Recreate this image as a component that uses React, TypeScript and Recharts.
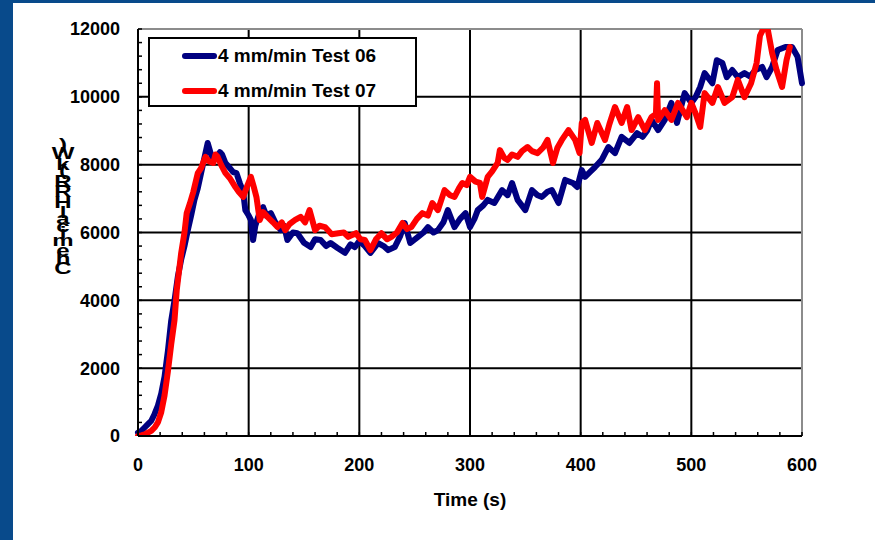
import React from 'react';
import { LineChart, Line, XAxis, YAxis, CartesianGrid, Legend } from 'recharts';

// time in s, HRR in kW
const test06Time = [0, 3, 6, 9, 12, 15, 18, 21, 24, 27, 30, 33, 36, 39, 42, 45, 48, 51, 54, 57, 60, 63, 66, 68, 71, 74, 76, 79, 83, 86, 89, 92, 95, 97, 100, 102, 104, 106, 110, 113, 116, 120, 124, 129, 132, 135, 140, 144, 150, 156, 160, 165, 170, 174, 180, 187, 192, 196, 200, 205, 210, 217, 222, 226, 232, 237, 241, 246, 253, 258, 262, 267, 271, 276, 280, 286, 291, 296, 300, 304, 307, 312, 316, 322, 329, 334, 338, 343, 350, 356, 361, 365, 370, 374, 380, 386, 393, 397, 401, 404, 409, 413, 419, 425, 431, 437, 444, 451, 456, 460, 464, 470, 476, 482, 487, 494, 500, 504, 508, 512, 519, 523, 528, 532, 537, 542, 548, 553, 558, 564, 568, 573, 578, 585, 591, 596, 600];
const test06Hrr = [100, 150, 250, 350, 450, 650, 900, 1250, 1750, 2500, 3400, 4000, 4700, 5200, 5600, 6070, 6500, 6960, 7300, 7750, 8200, 8640, 8300, 8140, 8230, 8370, 8300, 8050, 7900, 7780, 7750, 7460, 7200, 6660, 6500, 6370, 5780, 6200, 6600, 6750, 6500, 6570, 6300, 6070, 6200, 5780, 6000, 5980, 5700, 5570, 5800, 5780, 5600, 5690, 5550, 5400, 5650, 5570, 5750, 5600, 5400, 5690, 5600, 5480, 5570, 5900, 6280, 5690, 5870, 6000, 6160, 6000, 6070, 6300, 6660, 6160, 6400, 6570, 6160, 6400, 6660, 6800, 6960, 6870, 7250, 7100, 7460, 6960, 6660, 7250, 7100, 7050, 7200, 7250, 6870, 7550, 7460, 7340, 7840, 7640, 7800, 7930, 8140, 8520, 8340, 8820, 8640, 8930, 8820, 9000, 9320, 9020, 9320, 9820, 9230, 10110, 9820, 10000, 10290, 10700, 10400, 11080, 11000, 10580, 10790, 10580, 10700, 10600, 10790, 10880, 10580, 10880, 11380, 11470, 11470, 11180, 10400];

const test07Time = [0, 3, 6, 9, 12, 15, 18, 21, 24, 27, 30, 33, 35, 39, 42, 44, 47, 50, 54, 57, 61, 64, 68, 70, 72, 75, 79, 83, 88, 91, 95, 99, 102, 105, 107, 110, 113, 117, 122, 126, 130, 133, 137, 142, 147, 151, 155, 160, 164, 169, 175, 181, 186, 190, 197, 201, 205, 210, 215, 220, 225, 229, 234, 239, 243, 247, 252, 257, 262, 266, 271, 277, 282, 286, 290, 293, 297, 300, 305, 309, 311, 316, 320, 325, 327, 331, 334, 338, 343, 347, 352, 356, 361, 366, 370, 375, 379, 383, 389, 395, 399, 401, 404, 410, 415, 422, 426, 431, 437, 442, 446, 452, 458, 464, 468, 469, 470, 476, 482, 488, 496, 500, 504, 508, 512, 519, 524, 530, 537, 542, 548, 554, 559, 562, 565, 569, 573, 577, 582, 586, 589];
const test07Hrr = [0, 20, 50, 100, 150, 250, 400, 700, 1200, 1900, 2700, 3420, 4300, 5390, 6000, 6570, 6870, 7200, 7750, 7900, 8230, 8100, 8050, 8300, 8230, 8000, 7750, 7600, 7340, 7200, 7050, 7400, 7640, 7300, 7050, 6370, 6600, 6460, 6300, 6160, 6300, 6070, 6250, 6370, 6460, 6300, 6660, 6070, 6200, 6160, 5950, 5980, 6000, 5870, 5980, 5800, 5780, 5480, 5800, 5980, 5800, 5870, 6000, 6280, 6100, 6160, 6400, 6570, 6500, 6870, 6660, 7250, 7100, 7050, 7300, 7460, 7400, 7640, 7500, 7460, 7050, 7640, 7800, 8050, 8430, 8200, 8140, 8300, 8230, 8400, 8520, 8400, 8340, 8500, 8730, 8050, 8500, 8730, 9020, 8730, 8340, 9230, 9320, 8640, 9230, 8730, 9200, 9700, 9230, 9700, 9020, 9400, 9020, 9400, 9500, 10400, 9320, 9610, 9320, 9820, 9400, 9820, 9500, 9110, 10110, 9820, 10290, 9820, 9990, 10500, 9990, 10400, 11000, 11800, 12000, 12000, 11290, 10790, 10290, 11080, 11470];

const seriesNames = ['4 mm/min Test 06', '4 mm/min Test 07'];
const seriesColors = ['#000080', '#ff0000'];
const xMajorTicks = [0, 100, 200, 300, 400, 500, 600];
const xMinorTicks = [0, 20, 40, 60, 80, 100, 120, 140, 160, 180, 200, 220, 240, 260, 280, 300, 320, 340, 360, 380, 400, 420, 440, 460, 480, 500, 520, 540, 560, 580, 600];
const yMajorTicks = [0, 2000, 4000, 6000, 8000, 10000, 12000];
const yMinorTicks = [0, 400, 800, 1200, 1600, 2000, 2400, 2800, 3200, 3600, 4000, 4400, 4800, 5200, 5600, 6000, 6400, 6800, 7200, 7600, 8000, 8400, 8800, 9200, 9600, 10000, 10400, 10800, 11200, 11600, 12000];
const xTitle = 'Time (s)';
const yTitle = 'Chemical HRR (kW)';

const test06 = test06Time.map((t, i) => ({ time: t, hrr: test06Hrr[i] }));
const test07 = test07Time.map((t, i) => ({ time: t, hrr: test07Hrr[i] }));

const FONT = '"Liberation Sans", Arial, sans-serif';
const TICK_GAP = 18;
const X_TICK_GAP = 22;

const YTick = (props: any) => {
  const { x, y, payload } = props;
  const axisX = x + TICK_GAP;
  const major = yMajorTicks.includes(payload.value);
  return (
    <g>
      <line x1={axisX} x2={axisX + 4} y1={y} y2={y} stroke="#000" strokeWidth={1.5} />
      {major && (
        <text x={x} y={y} dy="0.36em" textAnchor="end" fontFamily={FONT} fontWeight="bold" fontSize={18} fill="#000">
          {payload.value}
        </text>
      )}
    </g>
  );
};

const XTick = (props: any) => {
  const { x, y, payload } = props;
  const axisY = y - X_TICK_GAP;
  const major = xMajorTicks.includes(payload.value);
  return (
    <g>
      <line x1={x} x2={x} y1={axisY} y2={axisY - 4} stroke="#000" strokeWidth={1.5} />
      {major && (
        <text x={x} y={y} dy="0.72em" textAnchor="middle" fontFamily={FONT} fontWeight="bold" fontSize={18} fill="#000">
          {payload.value}
        </text>
      )}
    </g>
  );
};

const renderLegend = (props: any) => {
  const { payload } = props;
  return (
    <div style={{ width: 265, height: 66, border: '2px solid #000', background: '#fff', position: 'relative' }}>
      {payload.map((entry: any, i: number) => (
        <div key={entry.value} style={{ position: 'absolute', left: 32, top: 7 + i * 35, height: 20, display: 'flex', alignItems: 'center' }}>
          <div style={{ width: 35, height: 6, borderRadius: 3, background: entry.color }} />
          <span style={{ fontFamily: FONT, fontWeight: 'bold', fontSize: 19, color: '#000', marginLeft: 1 }}>{entry.value}</span>
        </div>
      ))}
    </div>
  );
};

// the original title is drawn as upright glyphs stacked bottom to top
const ADV: Record<string, number> = { C: 0.722, h: 0.611, e: 0.556, m: 0.889, i: 0.278, c: 0.556, a: 0.556, l: 0.278, ' ': 0.278, H: 0.722, R: 0.722, '(': 0.333, k: 0.556, W: 0.944, ')': 0.333 };

const StackedTitle = () => {
  let cum = 0;
  const spans = yTitle.split('').map((ch, i) => {
    const w = ADV[ch] ?? 0.556;
    const cy = 273 - (cum + w / 2) * 14;
    cum += w;
    return (
      <tspan key={i} x={0} y={cy} dy="0.36em">
        {ch}
      </tspan>
    );
  });
  return (
    <svg width={875} height={540} style={{ position: 'absolute', left: 0, top: 0, pointerEvents: 'none' }}>
      <text transform="translate(63 0) scale(1.5 1)" textAnchor="middle" fontFamily={FONT} fontWeight="bold" fontSize={16} fill="#000">
        {spans}
      </text>
    </svg>
  );
};

const App = () => {
  return (
    <div style={{ position: 'absolute', left: 0, top: 0, width: 875, height: 540, background: '#fff', overflow: 'hidden' }}>
      <LineChart width={875} height={540} margin={{ top: 29, right: 73, bottom: 74, left: 0 }}>
        <CartesianGrid horizontalValues={[2000, 4000, 6000, 8000, 10000]} verticalValues={[100, 200, 300, 400, 500]} stroke="#000" strokeWidth={2} />
        <CartesianGrid horizontalValues={[12000]} verticalValues={[600]} stroke="#8c8c8c" strokeWidth={2} />
        <XAxis
          type="number"
          dataKey="time"
          domain={[0, 600]}
          ticks={xMinorTicks}
          interval={0}
          height={30}
          tickSize={0}
          tickMargin={X_TICK_GAP}
          tick={<XTick />}
          axisLine={{ stroke: '#000', strokeWidth: 2 }}
          allowDuplicatedCategory={false}
        />
        <YAxis
          type="number"
          domain={[0, 12000]}
          allowDataOverflow
          ticks={yMinorTicks}
          interval={0}
          width={138}
          tickSize={0}
          tickMargin={TICK_GAP}
          tick={<YTick />}
          axisLine={{ stroke: '#000', strokeWidth: 2 }}
        />
        <Legend
          layout="horizontal"
          verticalAlign="middle"
          align="center"
          content={renderLegend}
          wrapperStyle={{ left: 148, top: 37, width: 269, height: 70 }}
        />
        <Line data={test06} dataKey="hrr" name={seriesNames[0]} stroke={seriesColors[0]} strokeWidth={6} dot={false} isAnimationActive={false} strokeLinejoin="round" strokeLinecap="round" />
        <Line data={test07} dataKey="hrr" name={seriesNames[1]} stroke={seriesColors[1]} strokeWidth={6} dot={false} isAnimationActive={false} strokeLinejoin="round" strokeLinecap="round" />
      </LineChart>
      <div style={{ position: 'absolute', left: 0, top: 0, width: 13, height: 540, background: '#084a8b' }} />
      <div style={{ position: 'absolute', left: 0, top: 0, width: 875, height: 3, background: '#084a8b' }} />
      <div style={{ position: 'absolute', left: 370, width: 200, top: 489, textAlign: 'center', fontFamily: FONT, fontWeight: 'bold', fontSize: 19, color: '#000' }}>
        {xTitle}
      </div>
      <StackedTitle />
    </div>
  );
};

export default App;
